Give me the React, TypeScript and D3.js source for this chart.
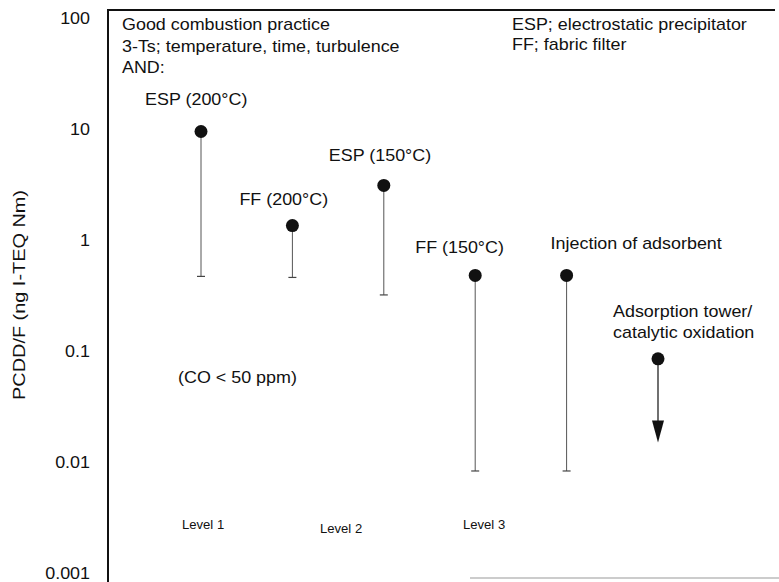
import { useEffect, useRef } from "react";
import * as d3 from "d3";

// --- Data ---
const techniques = [
  "ESP (200°C)",
  "FF (200°C)",
  "ESP (150°C)",
  "FF (150°C)",
  "Injection of adsorbent",
  "Adsorption tower/|catalytic oxidation",
];
// top of each range (dot) and bottom of each range (whisker end), ng I-TEQ/Nm3
const upperValues = [9.5, 1.35, 3.1, 0.48, 0.48, 0.085];
const lowerValues = [0.47, 0.46, 0.32, 0.0083, 0.0083, 0.015];
// last one is open ended (arrow) instead of a capped whisker
const openEnded = [false, false, false, false, false, true];

const yTicks = [100, 10, 1, 0.1, 0.01, 0.001];
const levelLabels = ["Level 1", "Level 2", "Level 3"];
const notesLeft = ["Good combustion practice", "3-Ts; temperature, time, turbulence", "AND:"];
const notesRight = ["ESP; electrostatic precipitator", "FF; fabric filter"];
const coNote = "(CO < 50 ppm)";
const yTitle = "PCDD/F (ng I-TEQ Nm)";

// --- Layout (label placement only) ---
const W = 779;
const H = 582;
const FONT = "'Liberation Sans', Arial, sans-serif";
const SX = 1.12; // the scanned type is a bit wide
const labelDx = [-56, -53, -55, -60, -16, -45];
const labelY = [105, 205, 161, 253, 249, 317];
const levelX = [182, 320, 463];
const levelY = [529, 533, 529];

export default function App() {
  const ref = useRef<SVGSVGElement>(null);

  useEffect(() => {
    const svg = d3.select(ref.current);
    svg.selectAll("*").remove();

    const x = d3.scaleLinear().domain([0, techniques.length - 1]).range([201, 658]);
    const y = d3.scaleLog().domain([0.001, 100]).range([573, 18]);

    const addText = (
      g: d3.Selection<any, any, any, any>,
      str: string,
      tx: number,
      ty: number,
      size = 16,
      anchor = "start",
      sx = SX
    ) =>
      g
        .append("text")
        .attr("transform", `translate(${tx},${ty}) scale(${sx},1)`)
        .attr("font-family", FONT)
        .attr("font-size", size)
        .attr("text-anchor", anchor)
        .attr("fill", "#111")
        .text(str);

    // frame
    svg.append("line").attr("x1", 108).attr("x2", 108).attr("y1", 10).attr("y2", H)
      .attr("stroke", "#111").attr("stroke-width", 2);
    svg.append("line").attr("x1", 107).attr("x2", 775).attr("y1", 10).attr("y2", 10)
      .attr("stroke", "#111").attr("stroke-width", 2);
    svg.append("line").attr("x1", 470).attr("x2", W).attr("y1", 578).attr("y2", 578)
      .attr("stroke", "#bbb").attr("stroke-width", 1.5);

    // y tick labels
    yTicks.forEach((t) => {
      addText(svg, String(t), 90, y(t) + 5.5, 16, "end");
    });

    // y title
    svg
      .append("text")
      .attr("transform", `translate(25,295) rotate(-90) scale(1.17,1)`)
      .attr("font-family", FONT)
      .attr("font-size", 17)
      .attr("text-anchor", "middle")
      .attr("fill", "#111")
      .text(yTitle);

    // notes
    notesLeft.forEach((s, i) => addText(svg, s, 122, 30 + i * 21.5));
    notesRight.forEach((s, i) => addText(svg, s, 512, 30 + i * 20));
    addText(svg, coNote, 178, 383);
    levelLabels.forEach((s, i) => addText(svg, s, levelX[i], levelY[i], 13.5, "start", 0.97));

    // whiskers
    techniques.forEach((_, i) => {
      const cx = x(i);
      if (!openEnded[i]) {
        svg.append("line").attr("x1", cx).attr("x2", cx)
          .attr("y1", y(upperValues[i])).attr("y2", y(lowerValues[i]))
          .attr("stroke", "#555").attr("stroke-width", 1);
        svg.append("line").attr("x1", cx - 4).attr("x2", cx + 4)
          .attr("y1", y(lowerValues[i])).attr("y2", y(lowerValues[i]))
          .attr("stroke", "#444").attr("stroke-width", 1.2);
      } else {
        const tip = y(lowerValues[i]);
        svg.append("line").attr("x1", cx).attr("x2", cx)
          .attr("y1", y(upperValues[i])).attr("y2", tip - 20)
          .attr("stroke", "#111").attr("stroke-width", 1.2);
        svg.append("path")
          .attr("d", `M${cx - 6},${tip - 22}L${cx + 6},${tip - 22}L${cx},${tip}Z`)
          .attr("fill", "#111");
      }
    });

    // dots
    svg.selectAll("circle.pt")
      .data(upperValues)
      .join("circle")
      .attr("class", "pt")
      .attr("cx", (_, i) => x(i))
      .attr("cy", (d) => y(d))
      .attr("r", 6.5)
      .attr("fill", "#111");

    // technique labels
    techniques.forEach((s, i) => {
      s.split("|").forEach((line, j) => {
        addText(svg, line, x(i) + labelDx[i], labelY[i] + j * 21);
      });
    });
  }, []);

  return (
    <svg
      ref={ref}
      width={W}
      height={H}
      style={{ position: "fixed", left: 0, top: 0, display: "block", background: "#fff" }}
    />
  );
}
